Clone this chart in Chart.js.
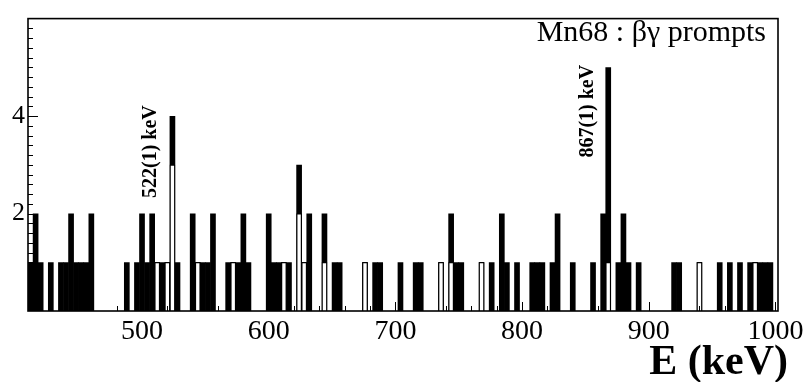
<!DOCTYPE html>
<html>
<head>
<meta charset="utf-8">
<script src="https://cdn.jsdelivr.net/npm/chart.js@4/dist/chart.umd.min.js"></script>
<style>
    html, body { margin: 0; padding: 0; background: #fff; }
    #wrap { width: 808px; height: 382px; }
</style>
</head>
<body>
<div id="wrap"><canvas id="espectro" width="808" height="382"></canvas></div>
<script>
// =====================================================
// DADOS DO ESPECTRO (bins de 4 keV, borda inferior do bin)
// =====================================================

const binWidth = 4; // keV

// histograma cheio (preto)
const filledBins = [
    410, 414, 418, 426, 434, 438, 442, 446, 450, 454, 458,
    486, 494, 498, 502, 506, 510, 514, 518, 522, 526,
    538, 542, 546, 550, 554, 566, 570, 574, 578, 582,
    598, 602, 606, 610, 614, 622, 626, 630, 642, 650, 654,
    674, 682, 686, 702, 714, 718, 734, 742, 746, 750,
    766, 774, 782, 786, 794, 806, 810, 814, 822, 826, 838,
    854, 862, 866, 874, 878, 882, 890, 918, 922, 938,
    954, 962, 970, 978, 982, 986, 990, 994
];
const filledCounts = [
    1, 2, 1, 1, 1, 1, 2, 1, 1, 1, 2,
    1, 1, 2, 1, 2, 1, 1, 1, 4, 1,
    2, 1, 1, 1, 2, 1, 1, 1, 2, 1,
    2, 1, 1, 1, 1, 3, 1, 2, 2, 1, 1,
    1, 1, 1, 1, 1, 1, 1, 2, 1, 1,
    1, 1, 2, 1, 1, 1, 1, 1, 1, 2, 1,
    1, 2, 5, 1, 2, 1, 1, 1, 1, 1,
    1, 1, 1, 1, 1, 1, 1, 1
];

// histograma vazado (branco com contorno), desenhado por cima
const hollowBins = [510, 518, 522, 542, 570, 610, 622, 626, 642, 674, 734, 742, 766, 866, 938, 982];
const hollowCounts = [1, 1, 3, 1, 1, 1, 2, 1, 1, 1, 1, 1, 1, 1, 1, 1];

const xTickLabels = [500, 600, 700, 800, 900, 1000];
const yTickLabels = [2, 4];

const chartTitle = 'Mn68 : βγ prompts';
const xAxisTitle = 'E (keV)';
const peakLabels = ['522(1) keV', '867(1) keV'];

// =====================================================
// PLUGIN: moldura, ticks internos e textos no estilo ROOT
// =====================================================

const quadroRoot = {
    id: 'quadroRoot',
    afterDatasetsDraw(chart, args, opts) {
        const { ctx, chartArea: a, scales: { x, y } } = chart;
        ctx.save();
        ctx.strokeStyle = '#000';
        ctx.fillStyle = '#000';

        // ticks do eixo x (principais a cada 100, secundarios a cada 20)
        ctx.lineWidth = 1;
        for (let v = 420; v <= 1000; v += 20) {
            const px = Math.round(x.getPixelForValue(v)) + 0.5;
            const len = v % 100 === 0 ? 9 : 5;
            ctx.beginPath();
            ctx.moveTo(px, a.bottom);
            ctx.lineTo(px, a.bottom - len);
            ctx.stroke();
        }

        // ticks do eixo y (principais a cada 2, secundarios a cada 0.2)
        for (let i = 1; i < 30; i++) {
            const py = Math.round(y.getPixelForValue(i * 0.2)) + 0.5;
            const len = i % 10 === 0 ? 10 : 5;
            ctx.beginPath();
            ctx.moveTo(a.left, py);
            ctx.lineTo(a.left + len, py);
            ctx.stroke();
        }

        // moldura
        ctx.lineWidth = 1.6;
        ctx.strokeRect(a.left, a.top, a.right - a.left, a.bottom - a.top);

        // titulo dentro do quadro
        ctx.font = "30px 'Liberation Serif'";
        ctx.textAlign = 'right';
        ctx.textBaseline = 'alphabetic';
        ctx.fillText(chartTitle, opts.titleX, opts.titleY);

        // titulo do eixo x
        ctx.font = "bold 42px 'Liberation Serif'";
        ctx.fillText(xAxisTitle, opts.axisTitleX, opts.axisTitleY);

        // rotulos dos picos (verticais)
        ctx.font = "bold 20px 'Liberation Serif'";
        ctx.textAlign = 'center';
        ctx.textBaseline = 'middle';
        opts.peaks.forEach((p, i) => {
            ctx.save();
            ctx.translate(x.getPixelForValue(p.e), y.getPixelForValue(p.n));
            ctx.rotate(-Math.PI / 2);
            ctx.fillText(peakLabels[i], 0, 0);
            ctx.restore();
        });

        ctx.restore();
    }
};

// =====================================================
// CRIAÇÃO DO GRÁFICO
// =====================================================

function montarPontos(bins, counts) {
    return bins.map((e, i) => ({ x: e + binWidth / 2, y: counts[i] }));
}

const fonteEixo = { family: "'Liberation Serif', serif" };

new Chart(document.getElementById('espectro'), {
    type: 'bar',
    data: {
        datasets: [
            {
                label: 'vazado',
                data: montarPontos(hollowBins, hollowCounts),
                backgroundColor: '#fff',
                borderColor: '#000',
                borderWidth: 1.2,
                grouped: false,
                barPercentage: 1,
                categoryPercentage: 1,
                order: 1
            },
            {
                label: 'cheio',
                data: montarPontos(filledBins, filledCounts),
                backgroundColor: '#000',
                borderWidth: 0,
                grouped: false,
                barPercentage: 1.12, // traço engrossado como no original
                categoryPercentage: 1,
                order: 2
            }
        ]
    },
    options: {
        responsive: false,
        animation: false,
        devicePixelRatio: 1,
        layout: { padding: { top: 14, right: 30, left: 0, bottom: 0 } },
        plugins: {
            legend: { display: false },
            tooltip: { enabled: false },
            quadroRoot: {
                titleX: 766, titleY: 41,
                axisTitleX: 788, axisTitleY: 374,
                peaks: [{ e: 507, n: 3.27 }, { e: 852, n: 4.1 }]
            }
        },
        scales: {
            x: {
                type: 'linear',
                min: 410,
                max: 1002,
                offset: false,
                grid: { display: false, drawTicks: false },
                border: { display: false },
                afterBuildTicks: (s) => { s.ticks = xTickLabels.map(v => ({ value: v })); },
                afterFit: (s) => { s.height = 71; },
                ticks: {
                    color: '#000',
                    font: { ...fonteEixo, size: 28 },
                    padding: 4,
                    maxRotation: 0,
                    autoSkip: false,
                    callback: (v) => String(v)
                }
            },
            y: {
                min: 0,
                max: 6,
                grid: { display: false, drawTicks: false },
                border: { display: false },
                afterBuildTicks: (s) => { s.ticks = yTickLabels.map(v => ({ value: v })); },
                afterFit: (s) => { s.width = 28; },
                ticks: {
                    color: '#000',
                    font: { ...fonteEixo, size: 26 },
                    padding: 3,
                    callback: (v) => String(v)
                }
            }
        }
    },
    plugins: [quadroRoot]
});
</script>
</body>
</html>
